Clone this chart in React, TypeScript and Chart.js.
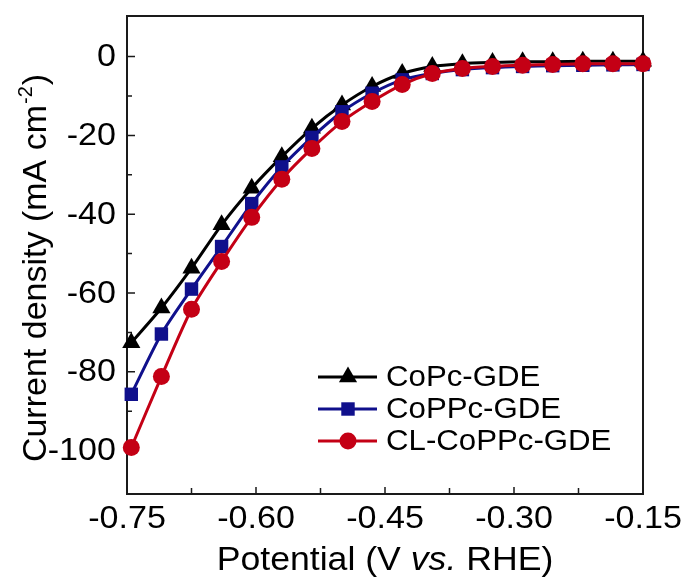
import React, { useEffect, useRef } from 'react';
import { Chart, registerables } from 'chart.js';

Chart.register(...registerables);

const potentials = [-0.745, -0.71, -0.675, -0.64, -0.605, -0.57, -0.535, -0.5, -0.465, -0.43, -0.395, -0.36, -0.325, -0.29, -0.255, -0.22, -0.185, -0.15];
const coPcGDE = [-72.6, -63.8, -53.7, -42.7, -33.4, -25.4, -18.2, -12.3, -7.6, -4.3, -2.5, -1.8, -1.5, -1.3, -1.3, -1.2, -1.2, -1.2];
const coPPcGDE = [-85.7, -70.4, -59.0, -48.2, -37.3, -28.0, -20.5, -14.0, -9.3, -5.9, -4.3, -3.3, -2.8, -2.5, -2.3, -2.2, -2.1, -2.0];
const clCoPPcGDE = [-99.2, -81.2, -64.1, -52.0, -40.8, -31.1, -23.3, -16.5, -11.4, -7.1, -4.3, -3.0, -2.5, -2.2, -2.0, -1.8, -1.8, -1.8];

const seriesNames = ['CoPc-GDE', 'CoPPc-GDE', 'CL-CoPPc-GDE'];
const seriesColors = ['#000000', '#10108c', '#c40015'];
const seriesMarkers = ['triangle', 'rect', 'circle'];

const xTickValues = [-0.75, -0.6, -0.45, -0.3, -0.15];
const xTickLabels = ['-0.75', '-0.60', '-0.45', '-0.30', '-0.15'];
const xMinorTicks = [-0.675, -0.525, -0.375, -0.225];
const yTickValues = [0, -20, -40, -60, -80, -100];
const yTickLabels = ['0', '-20', '-40', '-60', '-80', '-100'];
const yMinorTicks = [-10, -30, -50, -70, -90];

const FONT = '"Liberation Sans", Arial, sans-serif';
const TEXT_SX = 1.1;

function drawMarker(ctx: CanvasRenderingContext2D, style: string, x: number, y: number, r: number, color: string) {
  ctx.fillStyle = color;
  ctx.beginPath();
  if (style === 'circle') {
    ctx.arc(x, y, r, 0, Math.PI * 2);
  } else if (style === 'rect') {
    const s = Math.SQRT1_2 * r;
    ctx.rect(x - s, y - s, 2 * s, 2 * s);
  } else {
    ctx.moveTo(x, y - r);
    ctx.lineTo(x + 0.866 * r, y + 0.5 * r);
    ctx.lineTo(x - 0.866 * r, y + 0.5 * r);
    ctx.closePath();
  }
  ctx.fill();
}

function stretchedText(ctx: CanvasRenderingContext2D, text: string, x: number, y: number, sx: number) {
  ctx.save();
  ctx.translate(x, y);
  ctx.scale(sx, 1);
  ctx.fillText(text, 0, 0);
  ctx.restore();
}

const markerRadius: Record<string, number> = { triangle: 10.5, rect: 9.5, circle: 8.5 };

const framePlugin = {
  id: 'framePlugin',
  beforeDatasetsDraw(chart: any) {
    const { ctx, chartArea, scales } = chart;
    const { left, right, top, bottom } = chartArea;
    const xs = scales.x;
    const ys = scales.y;
    ctx.save();
    ctx.strokeStyle = '#1a1a1a';
    ctx.lineWidth = 2;
    ctx.strokeRect(left, top, right - left, bottom - top);
    ctx.lineWidth = 1.5;
    ctx.beginPath();
    xTickValues.forEach((v) => {
      const px = xs.getPixelForValue(v);
      ctx.moveTo(px, bottom);
      ctx.lineTo(px, bottom - 7);
    });
    xMinorTicks.forEach((v) => {
      const px = xs.getPixelForValue(v);
      ctx.moveTo(px, bottom);
      ctx.lineTo(px, bottom - 6);
    });
    yTickValues.forEach((v) => {
      const py = ys.getPixelForValue(v);
      ctx.moveTo(left, py);
      ctx.lineTo(left + 8, py);
    });
    yMinorTicks.forEach((v) => {
      const py = ys.getPixelForValue(v);
      ctx.moveTo(left, py);
      ctx.lineTo(left + 5, py);
    });
    ctx.stroke();
    ctx.restore();
  },
  afterDraw(chart: any) {
    const { ctx, chartArea, scales } = chart;
    const { left, right, bottom } = chartArea;
    const xs = scales.x;
    const ys = scales.y;
    ctx.save();
    ctx.fillStyle = '#000';
    // x tick labels
    ctx.font = `31px ${FONT}`;
    ctx.textAlign = 'center';
    ctx.textBaseline = 'alphabetic';
    xTickValues.forEach((v, i) => {
      stretchedText(ctx, xTickLabels[i], xs.getPixelForValue(v), bottom + 34, TEXT_SX);
    });
    // y tick labels
    ctx.textAlign = 'right';
    ctx.textBaseline = 'middle';
    yTickValues.forEach((v, i) => {
      stretchedText(ctx, yTickLabels[i], left - 11, ys.getPixelForValue(v) + 1, TEXT_SX);
    });
    // x title
    ctx.textBaseline = 'alphabetic';
    ctx.textAlign = 'left';
    const p1 = 'Potential (V ';
    const p2 = 'vs.';
    const p3 = ' RHE)';
    const xfs = 33;
    const xsx = 1.08;
    ctx.font = `${xfs}px ${FONT}`;
    const w1 = ctx.measureText(p1).width * xsx;
    const w3 = ctx.measureText(p3).width * xsx;
    ctx.font = `italic ${xfs}px ${FONT}`;
    const w2 = ctx.measureText(p2).width * xsx;
    const total = w1 + w2 + w3;
    const sx = (left + right) / 2 - total / 2;
    const by = 570;
    ctx.font = `${xfs}px ${FONT}`;
    stretchedText(ctx, p1, sx, by, xsx);
    ctx.font = `italic ${xfs}px ${FONT}`;
    stretchedText(ctx, p2, sx + w1, by, xsx);
    ctx.font = `${xfs}px ${FONT}`;
    stretchedText(ctx, p3, sx + w1 + w2, by, xsx);
    // y title
    const t1 = 'Current density (mA cm';
    const t2 = '-2';
    const t3 = ')';
    const yfs = 34;
    ctx.font = `${yfs}px ${FONT}`;
    const a1 = ctx.measureText(t1).width;
    const a3 = ctx.measureText(t3).width;
    ctx.font = `20px ${FONT}`;
    const a2 = ctx.measureText(t2).width;
    const tot = a1 + a2 + a3 + 2;
    ctx.translate(46, 268);
    ctx.rotate(-Math.PI / 2);
    const st = -tot / 2;
    ctx.font = `${yfs}px ${FONT}`;
    ctx.fillText(t1, st, 0);
    ctx.font = `20px ${FONT}`;
    ctx.fillText(t2, st + a1 + 1, -14);
    ctx.font = `${yfs}px ${FONT}`;
    ctx.fillText(t3, st + a1 + a2 + 2, 0);
    ctx.restore();

    // legend
    ctx.save();
    const rows = [377, 409, 441];
    const lx0 = 318;
    const lx1 = 377;
    const mx = 348;
    ctx.font = `30px ${FONT}`;
    ctx.textAlign = 'left';
    ctx.textBaseline = 'middle';
    seriesNames.forEach((name, i) => {
      const ry = rows[i];
      ctx.strokeStyle = seriesColors[i];
      ctx.lineWidth = 3;
      ctx.beginPath();
      ctx.moveTo(lx0, ry);
      ctx.lineTo(lx1, ry);
      ctx.stroke();
      drawMarker(ctx, seriesMarkers[i], mx, ry, markerRadius[seriesMarkers[i]], seriesColors[i]);
      ctx.fillStyle = '#000';
      stretchedText(ctx, name, 386, ry + 1, 1.04);
    });
    ctx.restore();
  },
};

export default function App() {
  const canvasRef = useRef<HTMLCanvasElement | null>(null);

  useEffect(() => {
    const canvas = canvasRef.current;
    if (!canvas) return;
    const seriesValues = [coPcGDE, coPPcGDE, clCoPPcGDE];
    const datasets = seriesValues.map((vals, i) => ({
      label: seriesNames[i],
      data: potentials.map((p, j) => ({ x: p, y: vals[j] })),
      borderColor: seriesColors[i],
      backgroundColor: seriesColors[i],
      borderWidth: 3,
      pointStyle: seriesMarkers[i],
      pointRadius: markerRadius[seriesMarkers[i]],
      pointBorderWidth: 0,
      pointBackgroundColor: seriesColors[i],
      tension: 0.25,
      clip: false as any,
      order: 2 - i,
    }));
    const chart = new Chart(canvas, {
      type: 'line',
      data: { datasets },
      options: {
        animation: false,
        responsive: true,
        maintainAspectRatio: false,
        layout: { padding: { left: 0, top: 16, right: 45, bottom: 0 } },
        plugins: { legend: { display: false }, tooltip: { enabled: false } },
        scales: {
          x: {
            type: 'linear',
            min: -0.75,
            max: -0.15,
            grid: { display: false, drawTicks: false },
            border: { display: false },
            ticks: { display: false },
            afterFit: (scale: any) => { scale.height = 87; },
          },
          y: {
            type: 'linear',
            min: -111,
            max: 10.3,
            grid: { display: false, drawTicks: false },
            border: { display: false },
            ticks: { display: false },
            afterFit: (scale: any) => { scale.width = 127; },
          },
        },
      },
      plugins: [framePlugin],
    });
    return () => chart.destroy();
  }, []);

  return (
    <div style={{ position: 'absolute', left: 0, top: 0, width: 688, height: 581, background: '#fff' }}>
      <canvas ref={canvasRef} />
    </div>
  );
}
